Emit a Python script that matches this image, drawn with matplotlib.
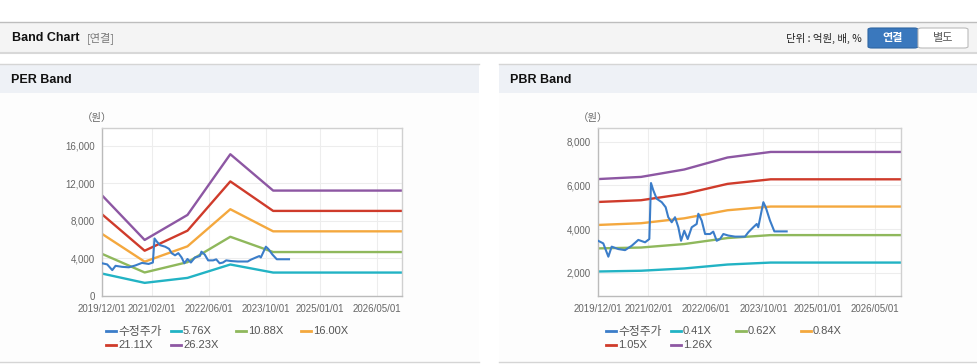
import matplotlib.pyplot as plt
from matplotlib.patches import Rectangle, FancyBboxPatch
from matplotlib.lines import Line2D
import pandas as pd

W, H = 978, 364

# band anchor dates (yearly EPS / BPS points, flat afterwards)
band_dates = pd.to_datetime(["2019-12-01", "2020-12-01", "2021-12-01",
                             "2022-12-01", "2023-12-01", "2026-12-03"])

per_labels = ["5.76X", "10.88X", "16.00X", "21.11X", "26.23X"]
per_576 = [2370, 1370, 1900, 3330, 2470, 2470]
per_1088 = [4480, 2480, 3580, 6290, 4660, 4660]
per_1600 = [6620, 3630, 5270, 9230, 6870, 6870]
per_2111 = [8720, 4800, 6940, 12200, 9050, 9050]
per_2623 = [10750, 5950, 8620, 15100, 11220, 11220]

pbr_labels = ["0.41X", "0.62X", "0.84X", "1.05X", "1.26X"]
pbr_041 = [2050, 2085, 2190, 2370, 2460, 2460]
pbr_062 = [3110, 3150, 3310, 3585, 3720, 3720]
pbr_084 = [4185, 4265, 4490, 4860, 5030, 5030]
pbr_105 = [5240, 5320, 5610, 6070, 6280, 6280]
pbr_126 = [6290, 6390, 6730, 7280, 7535, 7535]

# adjusted share price (수정주가)
price_dates = pd.to_datetime([
    "2019-12-01", "2020-01-17", "2020-02-29", "2020-03-28", "2020-05-23",
    "2020-07-19", "2020-09-13", "2020-11-08", "2021-01-04", "2021-02-09",
    "2021-02-23", "2021-03-15", "2021-04-12", "2021-05-25", "2021-06-27",
    "2021-07-19", "2021-08-17", "2021-09-14", "2021-10-12", "2021-11-04",
    "2021-12-01", "2021-12-30", "2022-02-02", "2022-03-16", "2022-03-30",
    "2022-04-27", "2022-05-26", "2022-07-07", "2022-08-03", "2022-09-01",
    "2022-09-29", "2022-10-27", "2022-12-08", "2023-02-03", "2023-04-28",
    "2023-05-26", "2023-07-07", "2023-08-05", "2023-08-18", "2023-09-30",
    "2023-10-20", "2023-11-25", "2024-01-01", "2024-04-14"])
price = [3470, 3340, 2730, 3190, 3080,
         3030, 3230, 3500, 3390, 3540,
         6110, 5770, 5390, 5230, 5000,
         4540, 4310, 4540, 4080, 3460,
         3920, 3540, 4080, 4230, 4700,
         4390, 3770, 3770, 3880, 3460,
         3540, 3770, 3700, 3650, 3650,
         3850, 4080, 4230, 4080, 5230,
         5000, 4390, 3890, 3890]

tick_dates = pd.to_datetime(["2019-12-01", "2021-02-01", "2022-06-01",
                             "2023-10-01", "2025-01-01", "2026-05-01"])
tick_names = ["2019/12/01", "2021/02/01", "2022/06/01",
              "2023/10/01", "2025/01/01", "2026/05/01"]

colors = ["#3b7dc9", "#22b3c4", "#8fb85c", "#f4a83e", "#cf3b2b", "#8d57a3"]
cjk = ["Noto Sans CJK KR", "DejaVu Sans"]
lat = ["Liberation Sans", "DejaVu Sans"]


def fx(x):
    return x / W


def fy(y):
    return 1 - y / H


fig = plt.figure(figsize=(W / 100, H / 100), dpi=100)
fig.patch.set_facecolor("white")


def rect(x0, y0, x1, y1, fc):
    fig.add_artist(Rectangle((fx(x0), fy(y1)), (x1 - x0) / W, (y1 - y0) / H,
                             transform=fig.transFigure, facecolor=fc,
                             edgecolor="none", zorder=-3))


def hline(x0, x1, y, c, lw=1):
    fig.add_artist(Line2D([fx(x0), fx(x1)], [fy(y), fy(y)],
                          transform=fig.transFigure, color=c, lw=lw, zorder=-2))


# top header bar
rect(0, 22, W, 52, "#f4f4f4")
hline(0, W, 22, "#bdbdbd")
hline(0, W, 52.5, "#d8d8d8", 1.5)
fig.text(fx(12), fy(38), "Band Chart", fontsize=9, fontweight="bold",
         family=lat, va="center", color="#111111")
fig.text(fx(87), fy(38), "[연결]", fontsize=8, family=cjk, va="center",
         color="#777777")
fig.text(fx(862), fy(38), "단위 : 억원, 배, %", fontsize=7.5, family=cjk,
         va="center", ha="right", color="#222222")
fig.add_artist(FancyBboxPatch((fx(868), fy(48)), 50 / W, 20 / H,
                              boxstyle="round,pad=0,rounding_size=0.004",
                              transform=fig.transFigure, facecolor="#3a78bd",
                              edgecolor="#2f66a3", lw=0.8))
fig.add_artist(FancyBboxPatch((fx(918), fy(48)), 50 / W, 20 / H,
                              boxstyle="round,pad=0,rounding_size=0.004",
                              transform=fig.transFigure, facecolor="white",
                              edgecolor="#bbbbbb", lw=0.8))
fig.text(fx(893), fy(38), "연결", fontsize=8, family=cjk, fontweight="bold",
         va="center", ha="center", color="white")
fig.text(fx(943), fy(38), "별도", fontsize=8, family=cjk,
         va="center", ha="center", color="#555555")

# panels
for x0, x1, title in [(0, 479, "PER Band"), (499, W, "PBR Band")]:
    rect(x0, 93, x1, 362, "#fdfdfd")
    rect(x0, 64, x1, 93, "#eef1f6")
    hline(x0, x1, 64, "#d5d5d5")
    hline(x0, x1, 362, "#d5d5d5")
    fig.text(fx(x0 + 11), fy(80), title, fontsize=9, fontweight="bold",
             family=lat, va="center", color="#111111")


def draw_panel(box, ylim, yticks, bands, labels, legend_x):
    left, top, right, bottom = box
    ax = fig.add_axes([fx(left), fy(bottom), (right - left) / W, (bottom - top) / H])
    ax.set_facecolor("white")
    ax.plot(price_dates, price, color=colors[0], lw=1.5, zorder=3)
    for vals, c in zip(bands, colors[1:]):
        ax.plot(band_dates, vals, color=c, lw=1.7, zorder=2)
    ax.set_xlim(pd.Timestamp("2019-12-01"), pd.Timestamp("2026-12-03"))
    ax.set_ylim(*ylim)
    ax.set_xticks(tick_dates)
    ax.set_xticklabels(tick_names)
    ax.set_yticks(yticks)
    ax.set_yticklabels([f"{v:,}" for v in yticks])
    ax.tick_params(length=0, labelsize=7, colors="#666666", pad=5)
    ax.tick_params(axis="x", pad=6)
    for lab in ax.get_xticklabels() + ax.get_yticklabels():
        lab.set_family(lat)
    ax.grid(True, color="#ededed", lw=0.8)
    ax.set_axisbelow(True)
    for s in ax.spines.values():
        s.set_color("#d0d0d0")
        s.set_linewidth(1)
    ax.spines["left"].set_color("#bbbbbb")
    ax.spines["bottom"].set_color("#bbbbbb")
    fig.text(fx(left - 5), fy(118), "（원）", fontsize=7.5, family=cjk,
             ha="center", va="center", color="#666666")

    # legend, two rows
    names = ["수정주가"] + labels
    for i, (name, c) in enumerate(zip(names, colors)):
        row, col = divmod(i, 4)
        lx = legend_x + col * 65
        ly = 331 + row * 14
        fig.add_artist(Line2D([fx(lx), fx(lx + 10)], [fy(ly), fy(ly)],
                              transform=fig.transFigure, color=c, lw=2))
        fig.text(fx(lx + 12), fy(ly), name, fontsize=8.5 if i == 0 else 8,
                 family=cjk if i == 0 else lat, va="center", color="#555555")
    return ax


draw_panel((101.7, 128, 402, 295.7), (0, 17900), [0, 4000, 8000, 12000, 16000],
           [per_576, per_1088, per_1600, per_2111, per_2623], per_labels, 106)
draw_panel((597.7, 128.3, 900.7, 295.7), (940, 8620), [2000, 4000, 6000, 8000],
           [pbr_041, pbr_062, pbr_084, pbr_105, pbr_126], pbr_labels, 606)

fig.savefig("out.png", dpi=100)
